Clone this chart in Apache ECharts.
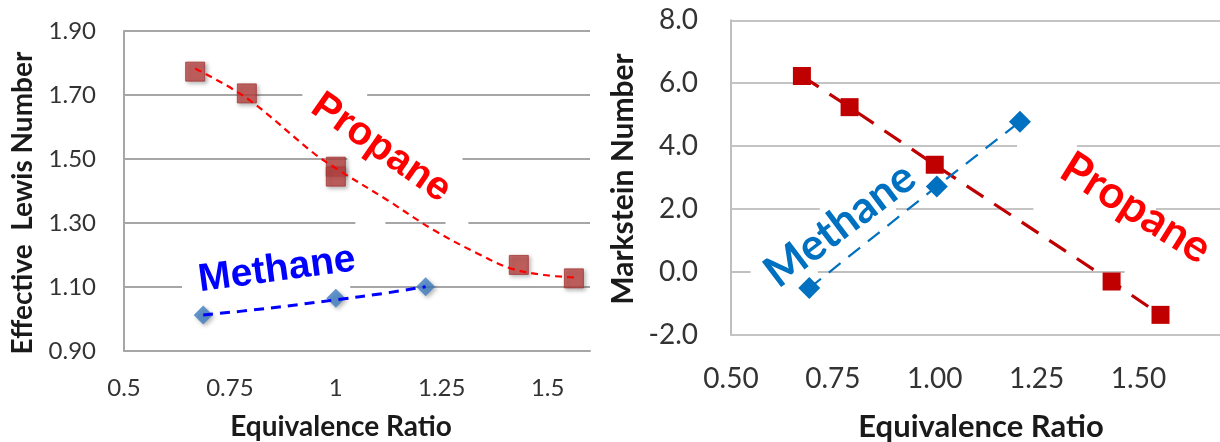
<!DOCTYPE html>
<html><head><meta charset="utf-8">
<script src="https://cdn.jsdelivr.net/npm/echarts@6/dist/echarts.min.js"></script>
<style>html,body{margin:0;padding:0;background:#fff}#c{width:1220px;height:442px}</style>
</head><body><div id="c"></div>
<script>
// ---- Left panel: Effective Lewis Number ----
const lewisXTicks = ['0.5', '0.75', '1', '1.25', '1.5'];
const lewisPropaneX = [0.668, 0.790, 1.0, 1.0, 1.432, 1.562];
const lewisPropaneY = [1.773, 1.705, 1.476, 1.445, 1.169, 1.127];
const lewisPropaneTrendX = [0.668, 0.79, 0.948, 1.0, 1.121, 1.231, 1.334, 1.413, 1.491, 1.562];
const lewisPropaneTrendY = [1.783, 1.69, 1.518, 1.471, 1.372, 1.278, 1.205, 1.158, 1.1375, 1.130];
const lewisMethaneX = [0.687, 1.0, 1.212];
const lewisMethaneY = [1.0125, 1.065, 1.101];
const lewisMethaneTrendX = [0.687, 0.837, 1.0, 1.113, 1.212];
const lewisMethaneTrendY = [1.0125, 1.033, 1.06, 1.08, 1.101];
// ---- Right panel: Markstein Number ----
const mkXTicks = ['0.50', '0.75', '1.00', '1.25', '1.50'];
const mkPropaneX = [0.674, 0.791, 1.0, 1.434, 1.554];
const mkPropaneY = [6.23, 5.24, 3.41, -0.30, -1.36];
const mkMethaneX = [0.692, 1.005, 1.209];
const mkMethaneY = [-0.51, 2.72, 4.78];

const zip = (a, b) => a.map((v, i) => [v, b[i]]);
const tickLookup = (arr, min, step) => v => {
  const i = Math.round((v - min) / step);
  return (Math.abs(min + i * step - v) < 1e-6 && arr[i] !== undefined) ? arr[i] : '';
};

const chart = echarts.init(document.getElementById('c'), null, {renderer: 'canvas'});
const tickFont = {fontFamily: 'Lato', color: '#333'};

chart.setOption({
  animation: false,
  backgroundColor: '#fff',
  grid: [
    {left: 124, top: 31, width: 466, height: 320},
    {left: 731, top: 20.3, width: 545.3, height: 314.7}
  ],
  xAxis: [
    {gridIndex: 0, type: 'value', min: 0.5, max: 1.6, interval: 0.25,
     axisLine: {show: true, lineStyle: {color: '#a6a6a6', width: 2}}, axisTick: {show: false},
     splitLine: {show: false},
     axisLabel: Object.assign({fontSize: 24, margin: 25, showMaxLabel: false,
       formatter: tickLookup(lewisXTicks, 0.5, 0.25)}, tickFont)},
    {gridIndex: 1, type: 'value', min: 0.5, max: 1.7, interval: 0.25,
     axisLine: {show: true, lineStyle: {color: '#bfbfbf', width: 2}}, axisTick: {show: false},
     splitLine: {show: false},
     axisLabel: Object.assign({fontSize: 28, margin: 30, showMaxLabel: false,
       formatter: tickLookup(mkXTicks, 0.5, 0.25)}, tickFont)}
  ],
  yAxis: [
    {gridIndex: 0, type: 'value', min: 0.9, max: 1.9, interval: 0.2,
     axisLine: {show: true, lineStyle: {color: '#a6a6a6', width: 2}}, axisTick: {show: false},
     splitLine: {show: true, lineStyle: {color: '#a6a6a6', width: 2}},
     axisLabel: Object.assign({fontSize: 24, margin: 28, formatter: v => v.toFixed(2)}, tickFont)},
    {gridIndex: 1, type: 'value', min: -2, max: 8, interval: 2,
     axisLine: {show: true, lineStyle: {color: '#bfbfbf', width: 2}}, axisTick: {show: false},
     splitLine: {show: true, lineStyle: {color: '#c4c4c4', width: 2}},
     axisLabel: Object.assign({fontSize: 28, margin: 33, formatter: v => v.toFixed(1)}, tickFont)}
  ],
  series: [
    {type: 'scatter', xAxisIndex: 0, yAxisIndex: 0, z: 3, symbol: 'rect', symbolSize: 19,
     itemStyle: {color: '#bb4643', borderColor: '#a33634', borderWidth: 1,
       shadowBlur: 4, shadowOffsetX: 2, shadowOffsetY: 2, shadowColor: 'rgba(0,0,0,0.35)'},
     data: zip(lewisPropaneX, lewisPropaneY)},
    {type: 'line', xAxisIndex: 0, yAxisIndex: 0, z: 4, smooth: 0.35, showSymbol: false,
     lineStyle: {color: '#ff0000', width: 2.2, type: [7, 5]},
     data: zip(lewisPropaneTrendX, lewisPropaneTrendY)},
    {type: 'scatter', xAxisIndex: 0, yAxisIndex: 0, z: 3, symbol: 'diamond', symbolSize: 19,
     itemStyle: {color: '#3f7cbf', shadowBlur: 4, shadowOffsetX: 2, shadowOffsetY: 2, shadowColor: 'rgba(0,0,0,0.35)'},
     data: zip(lewisMethaneX, lewisMethaneY)},
    {type: 'line', xAxisIndex: 0, yAxisIndex: 0, z: 4, smooth: 0.35, showSymbol: false,
     lineStyle: {color: '#0000ff', width: 3, type: [10, 7]},
     data: zip(lewisMethaneTrendX, lewisMethaneTrendY)},
    {type: 'line', xAxisIndex: 1, yAxisIndex: 1, z: 3, symbol: 'rect', symbolSize: 18, showSymbol: true,
     itemStyle: {color: '#c00000'},
     lineStyle: {color: '#c00000', width: 3.2, type: [20, 13]},
     data: zip(mkPropaneX, mkPropaneY)},
    {type: 'line', xAxisIndex: 1, yAxisIndex: 1, z: 4, symbol: 'diamond', symbolSize: 22, showSymbol: true,
     itemStyle: {color: '#0070c0'},
     lineStyle: {color: '#0070c0', width: 2.2, type: [15, 10]},
     data: zip(mkMethaneX, mkMethaneY)}
  ]
});

// gaps in gridlines behind annotation text boxes: [gridIndex, yValue, xFrom, xTo]
const gridGaps = [
  [0, 1.70, 0.921, 1.074], [0, 1.50, 1.027, 1.299], [0, 1.30, 1.046, 1.117],
  [0, 1.30, 1.259, 1.313], [0, 1.10, 0.637, 1.034],
  [1, 4.0, 1.202, 1.349], [1, 2.0, 0.718, 0.905], [1, 2.0, 1.242, 1.543],
  [1, 0.0, 0.548, 0.713], [1, 0.0, 1.466, 1.70]
];
const els = [];
gridGaps.forEach(g => {
  const p0 = chart.convertToPixel({gridIndex: g[0]}, [g[2], g[1]]);
  const p1 = chart.convertToPixel({gridIndex: g[0]}, [g[3], g[1]]);
  els.push({type: 'rect', z: 1, silent: true,
    shape: {x: p0[0], y: p0[1] - 3, width: p1[0] - p0[0], height: 6},
    style: {fill: '#fff'}});
});
const deg = Math.PI / 180;
function txt(x, y, text, font, fill, rot) {
  els.push({type: 'text', z: 100, x: x, y: y, rotation: rot * deg,
    style: {text: text, font: font, fill: fill, align: 'center', verticalAlign: 'middle'}});
}
// axis titles
txt(23, 203, 'Effective  Lewis Number', 'bold 28px Lato', '#1a1a1a', 90);
txt(341, 427, 'Equivalence Ratio', 'bold 28px Lato', '#1a1a1a', 0);
txt(623, 179, 'Markstein Number', 'bold 30px Lato', '#1a1a1a', 90);
txt(981, 427, 'Equivalence Ratio', 'bold 31px Lato', '#1a1a1a', 0);
// annotations
txt(381, 148, 'Propane', 'bold 40px "Liberation Sans"', '#ff0000', -35);
txt(277, 270, 'Methane', 'bold 39px "Liberation Sans"', '#0000ff', 7.7);
txt(840, 225, 'Methane', 'bold 44px Lato', '#0070c0', 37);
txt(1136, 208, 'Propane', 'bold 45px Lato', '#ff0000', -32);
chart.setOption({graphic: {elements: els}});
</script>
</body></html>
